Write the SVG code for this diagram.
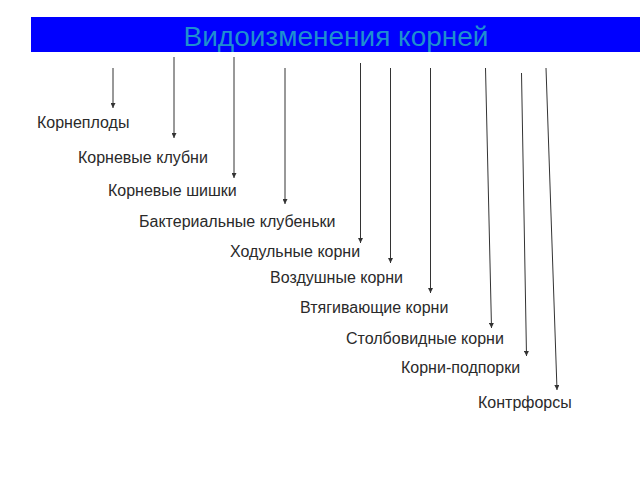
<svg xmlns="http://www.w3.org/2000/svg" width="640" height="480" viewBox="0 0 640 480">
<style>
.lbl{font-family:"Liberation Sans",Arial,sans-serif;font-size:16px;fill:#2a2a2a}
.ttl{font-family:"Liberation Sans",Arial,sans-serif;font-size:28px;fill:#1f8fcf;text-anchor:middle}
.ar{stroke:#333;stroke-width:1;fill:none;marker-end:url(#ah)}
</style>
<defs>
<marker id="ah" viewBox="0 0 6 6" refX="6" refY="3" markerWidth="5" markerHeight="5" orient="auto" markerUnits="userSpaceOnUse">
<path d="M0,0 L6,3 L0,6 z" fill="#333"/>
</marker>
</defs>
<rect width="640" height="480" fill="#fff"/>
<g id="title">
<rect x="31" y="17" width="609" height="35" fill="#0000ff"/>
<text class="ttl" x="336" y="46">Видоизменения корней</text>
</g>
<g id="connectors">
<line class="ar" x1="113" y1="68" x2="113" y2="108"/>
<line class="ar" x1="174" y1="57" x2="174" y2="138"/>
<line class="ar" x1="234" y1="57" x2="234" y2="178"/>
<line class="ar" x1="285" y1="68" x2="285" y2="204"/>
<line class="ar" x1="360.5" y1="63" x2="360.5" y2="243"/>
<line class="ar" x1="390.5" y1="68" x2="390.5" y2="263"/>
<line class="ar" x1="430.5" y1="68" x2="430.5" y2="293"/>
<line class="ar" x1="485.5" y1="68" x2="491.5" y2="328"/>
<line class="ar" x1="521.5" y1="73" x2="526.5" y2="356"/>
<line class="ar" x1="546" y1="68" x2="557" y2="390"/>
</g>
<g id="n1"><text class="lbl" x="37" y="128">Корнеплоды</text></g>
<g id="n2"><text class="lbl" x="78" y="163">Корневые клубни</text></g>
<g id="n3"><text class="lbl" x="108" y="196">Корневые шишки</text></g>
<g id="n4"><text class="lbl" x="139" y="227">Бактериальные клубеньки</text></g>
<g id="n5"><text class="lbl" x="230" y="257">Ходульные корни</text></g>
<g id="n6"><text class="lbl" x="270" y="283">Воздушные корни</text></g>
<g id="n7"><text class="lbl" x="300" y="313">Втягивающие корни</text></g>
<g id="n8"><text class="lbl" x="346" y="344">Столбовидные корни</text></g>
<g id="n9"><text class="lbl" x="401" y="373">Корни-подпорки</text></g>
<g id="n10"><text class="lbl" x="478" y="408">Контрфорсы</text></g>
</svg>
